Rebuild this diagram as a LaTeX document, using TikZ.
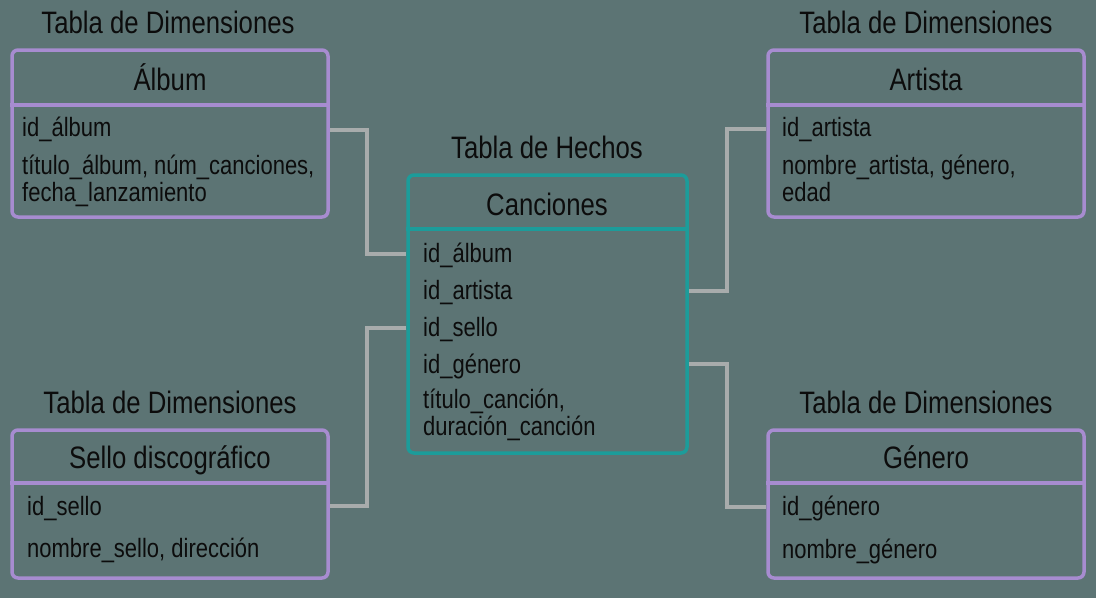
\documentclass[tikz,border=0pt]{standalone}
\usepackage{fontspec}
\setmainfont{Liberation Sans}[FakeStretch=0.83]
\definecolor{bg}{HTML}{5C7474}
\definecolor{dimc}{HTML}{A78CD0}
\definecolor{factc}{HTML}{1C9C9A}
\definecolor{connc}{HTML}{A8ACAC}
\definecolor{txt}{HTML}{0C0C0C}
\tikzset{
  x=1pt, y=-1pt,
  dimbox/.style={draw=dimc, line width=3.5pt, rounded corners=6pt, inner sep=0pt},
  factbox/.style={draw=factc, line width=3.5pt, rounded corners=6pt, inner sep=0pt},
  heading/.style={font=\fontsize{31}{32}\selectfont, text=txt, inner sep=0pt, anchor=base},
  field/.style={font=\fontsize{26.5}{27}\selectfont, text=txt, inner sep=0pt, anchor=base west},
  conn/.style={draw=connc, line width=3.5pt},
}
\begin{document}
\begin{tikzpicture}
\fill[bg] (0,0) rectangle (1096,598);
\useasboundingbox (0,0) rectangle (1096,598);

% ---------- Album ----------
\node[heading] (tAlbum) at (168,33) {Tabla de Dimensiones};
\node[dimbox, minimum width=316pt, minimum height=167pt] (album) at (170,133.5) {};
\draw[dimc, line width=3.5pt] (album.west|-0,105) -- (album.east|-0,105);
\node[heading] (hAlbum) at (170,90) {Álbum};
\node[field] (a1) at (22,136) {id\_álbum};
\node[field] (a2) at (22,174) {título\_álbum, núm\_canciones,};
\node[field] (a3) at (22,201) {fecha\_lanzamiento};

% ---------- Artista ----------
\node[heading] (tArt) at (926,33) {Tabla de Dimensiones};
\node[dimbox, minimum width=316pt, minimum height=167pt] (artista) at (926,133.5) {};
\draw[dimc, line width=3.5pt] (artista.west|-0,105) -- (artista.east|-0,105);
\node[heading] (hArt) at (926,90) {Artista};
\node[field] (r1) at (782,136) {id\_artista};
\node[field] (r2) at (782,174) {nombre\_artista, género,};
\node[field] (r3) at (782,201) {edad};

% ---------- Sello ----------
\node[heading] (tSello) at (170,413) {Tabla de Dimensiones};
\node[dimbox, minimum width=316pt, minimum height=148pt] (sello) at (170,504) {};
\draw[dimc, line width=3.5pt] (sello.west|-0,483) -- (sello.east|-0,483);
\node[heading] (hSello) at (170,468) {Sello discográfico};
\node[field] (s1) at (27,515) {id\_sello};
\node[field] (s2) at (27,557) {nombre\_sello, dirección};

% ---------- Genero ----------
\node[heading] (tGen) at (926,413) {Tabla de Dimensiones};
\node[dimbox, minimum width=316pt, minimum height=148pt] (genero) at (926,504) {};
\draw[dimc, line width=3.5pt] (genero.west|-0,483) -- (genero.east|-0,483);
\node[heading] (hGen) at (926,468) {Género};
\node[field] (g1) at (782,515) {id\_género};
\node[field] (g2) at (782,558) {nombre\_género};

% ---------- Canciones ----------
\node[heading] (tCanc) at (547,158) {Tabla de Hechos};
\node[factbox, minimum width=279pt, minimum height=278pt] (canc) at (547.5,314) {};
\draw[factc, line width=3.5pt] (canc.west|-0,229) -- (canc.east|-0,229);
\node[heading] (hCanc) at (547,215) {Canciones};
\node[field] (c1) at (423,262) {id\_álbum};
\node[field] (c2) at (423,299) {id\_artista};
\node[field] (c3) at (423,336) {id\_sello};
\node[field] (c4) at (423,373) {id\_género};
\node[field] (c5) at (423,408) {título\_canción,};
\node[field] (c6) at (423,435) {duración\_canción};

% ---------- connectors ----------
\draw[conn] (album.east|-0,130) -| (367,190) |- (canc.west|-0,254);
\draw[conn] (canc.east|-0,291) -| (727,200) |- (artista.west|-0,129);
\draw[conn] (canc.west|-0,328) -| (367,420) |- (sello.east|-0,506);
\draw[conn] (canc.east|-0,364) -| (727,420) |- (genero.west|-0,507);
\end{tikzpicture}
\end{document}
